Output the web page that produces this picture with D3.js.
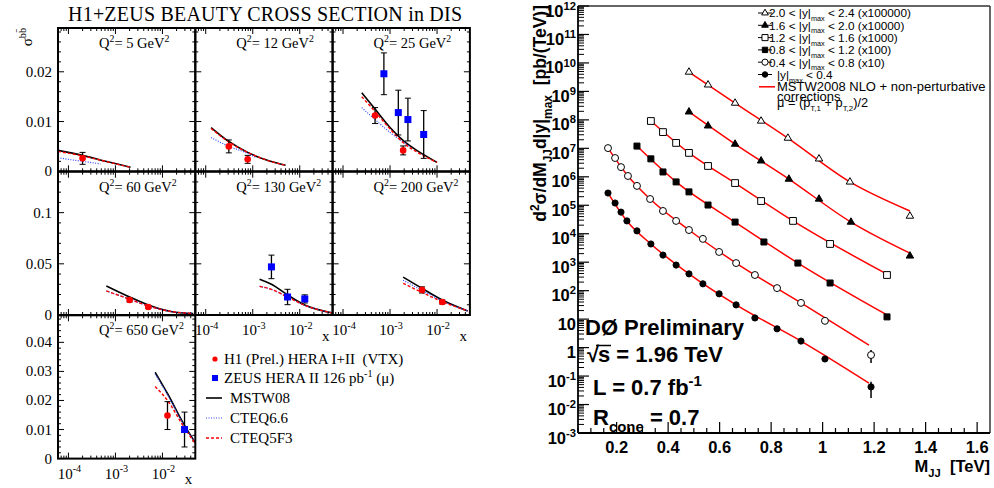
<!DOCTYPE html>
<html>
<head>
<meta charset="utf-8">
<script src="https://cdn.jsdelivr.net/npm/d3@7"></script>
<style>
  body { margin: 0; background: #fff; }
  text { white-space: pre; }
</style>
</head>
<body>
<svg id="chart" width="994" height="488"></svg>
<script>
// ---------------- left figure: H1+ZEUS beauty cross section ----------------
var q2Labels = ["5", "12", "25", "60", "130", "200", "650"];
var rowMax = [0.0288, 0.14, 0.0493];
var rowTicks = [[0, 0.01, 0.02], [0, 0.05, 0.1], [0, 0.01, 0.02, 0.03, 0.04]];
var rowMinor = [0.002, 0.01, 0.002];

// theory curves (x, sigma) per Q2 panel
var mstwX = [
  [6e-5, 2e-4, 6.8e-4, 2.1e-3],
  [1.3e-4, 3.1e-4, 7.8e-4, 1.9e-3, 5e-3],
  [2.5e-4, 4.8e-4, 1e-3, 2e-3, 4e-3, 1e-2],
  [6.4e-4, 2e-3, 5e-3, 0.015, 0.045],
  [1.4e-3, 2.5e-3, 5.5e-3, 0.0128, 0.05],
  [1.9e-3, 4.8e-3, 0.0129, 0.045],
  [7e-3, 0.0128, 0.0295, 0.05]
];
var mstwY = [
  [0.0042, 0.0032, 0.0019, 0.0008],
  [0.0088, 0.006, 0.0038, 0.0023, 0.0012],
  [0.0158, 0.0125, 0.0088, 0.006, 0.004, 0.0018],
  [0.0284, 0.0176, 0.0098, 0.0035, 0.0015],
  [0.035, 0.030, 0.0196, 0.0098, 0.002],
  [0.037, 0.026, 0.0147, 0.004],
  [0.0297, 0.0224, 0.0114, 0.0055]
];
var cteq66X = [
  [6e-5, 2e-4, 4.8e-4],
  [1.3e-4, 3.1e-4, 7.8e-4, 1.15e-3],
  [2.5e-4, 4.8e-4, 1e-3, 2.6e-3],
  [6.4e-4, 2e-3, 5e-3, 0.015, 0.045],
  [1.4e-3, 2.5e-3, 5.5e-3, 0.0128, 0.05],
  [1.9e-3, 4.8e-3, 0.0129, 0.045],
  [7e-3, 0.0128, 0.0295, 0.05]
];
var cteq66Y = [
  [0.0027, 0.0020, 0.0015],
  [0.0068, 0.005, 0.0036, 0.0028],
  [0.0128, 0.0104, 0.0078, 0.005],
  [0.0235, 0.0155, 0.0088, 0.0035, 0.0015],
  [0.028, 0.025, 0.0176, 0.0095, 0.002],
  [0.034, 0.024, 0.0137, 0.004],
  [0.029, 0.022, 0.0112, 0.0055]
];
var cteq5Y = [
  [0.0040, 0.0031, 0.0019, 0.0008],
  [0.0086, 0.0059, 0.0038, 0.0023, 0.0012],
  [0.015, 0.012, 0.0085, 0.0056, 0.0037, 0.0018],
  [0.0235, 0.0155, 0.0088, 0.0035, 0.0015],
  [0.028, 0.025, 0.0176, 0.0095, 0.002],
  [0.031, 0.022, 0.013, 0.004],
  [0.0248, 0.020, 0.0105, 0.0052]
];

// measurements
var h1Panel = [0, 1, 1, 2, 2, 3, 3, 5, 5, 6];
var h1X = [2e-4, 3.1e-4, 7.8e-4, 4.8e-4, 1.9e-3, 2e-3, 5e-3, 4.8e-3, 0.0129, 0.0128];
var h1Y = [0.0026, 0.005, 0.0024, 0.0112, 0.0042, 0.0147, 0.0078, 0.0245, 0.0127, 0.0148];
var h1Err = [0.0012, 0.0013, 0.0008, 0.0016, 0.0009, 0.002, 0.0015, 0.003, 0.002, 0.0048];

var zeusPanel = [2, 2, 2, 2, 4, 4, 4, 6];
var zeusX = [7.4e-4, 1.5e-3, 2.4e-3, 5.2e-3, 2.5e-3, 5.5e-3, 0.0128, 0.0295];
var zeusY = [0.0196, 0.0118, 0.0104, 0.0074, 0.047, 0.0176, 0.0157, 0.0100];
var zeusErr = [0.0042, 0.0045, 0.0043, 0.0048, 0.0115, 0.0075, 0.004, 0.006];

// ---------------- right figure: D0 dijet mass ----------------
var seriesNames = ["2.0", "1.6", "1.2", "0.8", "0.4", "0.0"];
var seriesHigh = ["2.4", "2.0", "1.6", "1.2", "0.8", "0.4"];
var seriesScale = ["(x100000)", "(x10000)", "(x1000)", "(x100)", "(x10)", ""];
var seriesMarker = ["opentriangle", "triangle", "opensquare", "square", "opencircle", "circle"];

var dataM = [
  [0.481, 0.555, 0.660, 0.761, 0.865, 0.986, 1.106, 1.339],
  [0.481, 0.555, 0.660, 0.761, 0.869, 0.986, 1.110, 1.339],
  [0.333, 0.380, 0.431, 0.481, 0.555, 0.660, 0.761, 0.885, 1.029, 1.250],
  [0.279, 0.333, 0.380, 0.431, 0.481, 0.555, 0.660, 0.772, 0.904, 1.029, 1.250],
  [0.1665, 0.194, 0.217, 0.244, 0.279, 0.330, 0.380, 0.431, 0.481, 0.535, 0.598, 0.664, 0.737, 0.823, 0.916, 1.009, 1.188],
  [0.1665, 0.194, 0.217, 0.240, 0.279, 0.333, 0.380, 0.431, 0.481, 0.535, 0.598, 0.664, 0.737, 0.823, 0.916, 1.009, 1.188]
];
var dataXsec = [
  [4.79e9, 1.70e9, 3.89e8, 9.12e7, 2.29e7, 4.27e6, 6.61e5, 4.17e4],
  [1.91e8, 6.17e7, 1.41e7, 3.63e6, 8.32e5, 1.66e5, 2.57e4, 1.66e3],
  [9.12e7, 3.72e7, 1.55e7, 6.92e6, 2.40e6, 6.03e5, 1.41e5, 2.82e4, 4.37e3, 355],
  [1.20e7, 4.27e6, 1.48e6, 6.61e5, 2.95e5, 1.02e5, 2.57e4, 5.13e3, 933, 186, 12.0],
  [1.02e7, 4.57e6, 2.19e6, 1.07e6, 4.79e5, 1.66e5, 6.31e4, 2.82e4, 1.35e4, 6.61e3, 2.29e3, 933, 355, 123, 37.2, 8.71, 0.55],
  [2.69e5, 1.20e5, 5.75e4, 2.82e4, 1.26e4, 4.37e3, 1.78e3, 794, 389, 174, 77.6, 31.6, 11.0, 4.57, 1.70, 0.398, 0.0417]
];
// error band on the last (highest mass) point, [low, high]
var lastErr = [null, null, null, null, [0.29, 0.83], [0.017, 0.063]];

var theoryM = [
  [0.481, 0.660, 0.865, 1.106, 1.339],
  [0.481, 0.660, 0.869, 1.110, 1.339],
  [0.333, 0.481, 0.660, 0.885, 1.250],
  [0.279, 0.431, 0.660, 0.904, 1.250],
  [0.1665, 0.244, 0.330, 0.481, 0.664, 0.916, 1.18],
  [0.1665, 0.240, 0.333, 0.481, 0.664, 0.916, 1.18]
];
var theoryXsec = [
  [4.79e9, 3.89e8, 2.29e7, 6.61e5, 6.31e4],
  [1.91e8, 1.41e7, 8.32e5, 2.57e4, 2.09e3],
  [9.12e7, 6.92e6, 6.03e5, 2.82e4, 380],
  [1.20e7, 6.61e5, 2.57e4, 933, 14.1],
  [1.02e7, 1.07e6, 1.66e5, 1.35e4, 933, 37.2, 1.23],
  [2.69e5, 2.82e4, 4.37e3, 389, 31.6, 1.70, 0.057]
];

var serif = "'Liberation Serif', 'DejaVu Serif', serif";
var sans = "'Liberation Sans', Arial, Helvetica, sans-serif";

var svg = d3.select("#chart");

// text with super/subscripts: parts = [[text, 1 sup | -1 sub | 0]]
function richText(sel, parts, size, small) {
  var cur = 0;
  small = small || 0.68;
  parts.forEach(function(p) {
    var off = p[1] === 1 ? -0.42 * size : (p[1] === -1 ? 0.32 * size : 0);
    sel.append("tspan")
      .attr("dy", off - cur)
      .attr("font-size", p[1] ? size * small : size)
      .text(p[0]);
    cur = off;
  });
  return sel;
}

// ================= LEFT =================
var colX = [58, 195.3, 332.6];
var rowY = [28, 171.7, 315.3];
var pw = 137.3, ph = 143.3;
var panelCol = [0, 1, 2, 0, 1, 2, 0];
var panelRow = [0, 0, 0, 1, 1, 1, 2];
var showXLabels = [false, false, false, false, true, true, true];

svg.append("text")
  .attr("x", 265).attr("y", 21)
  .attr("text-anchor", "middle")
  .attr("font-family", serif).attr("font-size", 20)
  .attr("textLength", 394)
  .text("H1+ZEUS BEAUTY CROSS SECTION in DIS");

richText(svg.append("text")
  .attr("transform", "translate(32,28) rotate(-90)")
  .attr("text-anchor", "end")
  .attr("font-family", serif), [["\u03c3", 0], ["bb\u0304", 1]], 15);

q2Labels.forEach(function(q, i) {
  var c = panelCol[i], r = panelRow[i];
  var x0 = colX[c], x1 = colX[c] + pw, yTop = rowY[r], yBot = rowY[r] + ph;
  var x = d3.scaleLog().domain([6e-5, 0.05]).range([x0, x1]);
  var y = d3.scaleLinear().domain([0, rowMax[r]]).range([yBot, yTop]);
  var g = svg.append("g");

  // log x ticks, top and bottom
  for (var e = -5; e <= -2; e++) {
    for (var k = 1; k < 10; k++) {
      var v = k * Math.pow(10, e);
      if (v <= 6.01e-5 || v >= 0.0499) continue;
      var len = k === 1 ? 6 : 3;
      var px = x(v);
      g.append("line").attr("x1", px).attr("x2", px).attr("y1", yBot).attr("y2", yBot - len)
        .attr("stroke", "#000").attr("stroke-width", 1);
      g.append("line").attr("x1", px).attr("x2", px).attr("y1", yTop).attr("y2", yTop + len)
        .attr("stroke", "#000").attr("stroke-width", 1);
    }
  }
  // y ticks, left and right
  d3.range(0, rowMax[r], rowMinor[r]).forEach(function(v) {
    var major = rowTicks[r].some(function(t) { return Math.abs(t - v) < 1e-9; });
    var len = major ? 6 : 3;
    var py = y(v);
    g.append("line").attr("x1", x0).attr("x2", x0 + len).attr("y1", py).attr("y2", py)
      .attr("stroke", "#000").attr("stroke-width", 1);
    g.append("line").attr("x1", x1).attr("x2", x1 - len).attr("y1", py).attr("y2", py)
      .attr("stroke", "#000").attr("stroke-width", 1);
  });

  // y tick labels on the first column
  if (c === 0) {
    rowTicks[r].forEach(function(t) {
      g.append("text")
        .attr("x", 52).attr("y", y(t) + 5)
        .attr("text-anchor", "end")
        .attr("font-family", serif).attr("font-size", 15)
        .text(t === 0 ? "0" : String(t));
    });
  }
  // x tick labels where no panel sits below
  if (showXLabels[i]) {
    [-4, -3, -2].forEach(function(ex) {
      richText(g.append("text")
        .attr("x", x(Math.pow(10, ex)) + 1).attr("y", yBot + 20)
        .attr("text-anchor", "middle")
        .attr("font-family", serif), [["10", 0], ["-" + Math.abs(ex), 1]], 15);
    });
    g.append("text")
      .attr("x", x1 - 3).attr("y", yBot + (r === 2 ? 25 : 26))
      .attr("text-anchor", "end")
      .attr("font-family", serif).attr("font-size", 15)
      .text("x");
  }

  // theory curves
  var line = d3.line()
    .x(function(d) { return x(d[0]); })
    .y(function(d) { return y(d[1]); })
    .curve(d3.curveMonotoneX);
  g.append("path")
    .attr("d", line(d3.zip(mstwX[i], mstwY[i])))
    .attr("fill", "none").attr("stroke", "#000").attr("stroke-width", 1.6);
  g.append("path")
    .attr("d", line(d3.zip(cteq66X[i], cteq66Y[i])))
    .attr("fill", "none").attr("stroke", "#3344ff").attr("stroke-width", 1.2)
    .attr("stroke-dasharray", "1,1.5");
  g.append("path")
    .attr("d", line(d3.zip(mstwX[i], cteq5Y[i])))
    .attr("fill", "none").attr("stroke", "#ff0000").attr("stroke-width", 1.4)
    .attr("stroke-dasharray", "3,2");

  // error bars + markers
  function errBar(px, yv, ev) {
    var ya = y(yv + ev), yb = y(Math.max(0, yv - ev));
    g.append("line").attr("x1", px).attr("x2", px).attr("y1", ya).attr("y2", yb)
      .attr("stroke", "#000").attr("stroke-width", 1.3);
    [ya, yb].forEach(function(yy) {
      g.append("line").attr("x1", px - 3).attr("x2", px + 3).attr("y1", yy).attr("y2", yy)
        .attr("stroke", "#000").attr("stroke-width", 1);
    });
  }
  h1Panel.forEach(function(p, j) {
    if (p !== i) return;
    errBar(x(h1X[j]), h1Y[j], h1Err[j]);
    g.append("circle").attr("cx", x(h1X[j])).attr("cy", y(h1Y[j])).attr("r", 3.3)
      .attr("fill", "#ff0000");
  });
  zeusPanel.forEach(function(p, j) {
    if (p !== i) return;
    errBar(x(zeusX[j]), zeusY[j], zeusErr[j]);
    g.append("rect").attr("x", x(zeusX[j]) - 3.5).attr("y", y(zeusY[j]) - 3.5)
      .attr("width", 7).attr("height", 7).attr("fill", "#0000ff");
  });

  // Q2 label
  richText(g.append("text")
    .attr("x", x0 + 41).attr("y", yTop + 20)
    .attr("font-family", serif),
    [["Q", 0], ["2", 1], ["= " + q + " GeV", 0], ["2", 1]], 14.5);

  // frame
  g.append("rect").attr("x", x0).attr("y", yTop).attr("width", pw).attr("height", ph)
    .attr("fill", "none").attr("stroke", "#000").attr("stroke-width", 2);
});

// left legend
var lg = svg.append("g").attr("font-family", serif).attr("font-size", 15);
lg.append("circle").attr("cx", 215).attr("cy", 359).attr("r", 2.6).attr("fill", "#ff0000");
lg.append("text").attr("x", 224).attr("y", 364).text("H1 (Prel.) HERA I+II  (VTX)");
lg.append("rect").attr("x", 212).attr("y", 375).attr("width", 6).attr("height", 6).attr("fill", "#0000ff");
richText(lg.append("text").attr("x", 224).attr("y", 383),
  [["ZEUS HERA II 126 pb", 0], ["-1", 1], [" (\u03bc)", 0]], 15);
lg.append("line").attr("x1", 206).attr("x2", 222).attr("y1", 398).attr("y2", 398)
  .attr("stroke", "#000").attr("stroke-width", 1.6);
lg.append("text").attr("x", 230).attr("y", 403).text("MSTW08");
lg.append("line").attr("x1", 206).attr("x2", 222).attr("y1", 418).attr("y2", 418)
  .attr("stroke", "#3344ff").attr("stroke-width", 1.2).attr("stroke-dasharray", "1,1.5");
lg.append("text").attr("x", 230).attr("y", 423).text("CTEQ6.6");
lg.append("line").attr("x1", 206).attr("x2", 222).attr("y1", 438).attr("y2", 438)
  .attr("stroke", "#ff0000").attr("stroke-width", 1.4).attr("stroke-dasharray", "3,2");
lg.append("text").attr("x", 230).attr("y", 443).text("CTEQ5F3");

// ================= RIGHT =================
var mx = d3.scaleLinear().domain([0.05, 1.65]).range([578, 990]);
var my = d3.scaleLog().domain([1e-3, 1e12]).range([433, 6]);
var rg = svg.append("g");

// frame (top/right thin)
rg.append("line").attr("x1", 578).attr("x2", 990).attr("y1", 6).attr("y2", 6)
  .attr("stroke", "#333").attr("stroke-width", 1.5);
rg.append("line").attr("x1", 990).attr("x2", 990).attr("y1", 6).attr("y2", 433)
  .attr("stroke", "#333").attr("stroke-width", 1.5);

// y axis ticks
for (var e = -3; e <= 12; e++) {
  var py = my(Math.pow(10, e));
  rg.append("line").attr("x1", 578).attr("x2", 589).attr("y1", py).attr("y2", py)
    .attr("stroke", "#000").attr("stroke-width", 1.2);
  if (e < 12) {
    for (var k = 2; k < 10; k++) {
      var pm = my(k * Math.pow(10, e));
      rg.append("line").attr("x1", 578).attr("x2", 584).attr("y1", pm).attr("y2", pm)
        .attr("stroke", "#000").attr("stroke-width", 1);
    }
  }
  var lab = rg.append("text")
    .attr("x", 576).attr("y", py + 10.5)
    .attr("text-anchor", "end")
    .attr("font-family", sans).attr("font-weight", "bold");
  if (e === 0) richText(lab, [["1", 0]], 16.5);
  else if (e === 1) richText(lab, [["10", 0]], 16.5);
  else richText(lab, [["10", 0], [String(e), 1]], 16.5);
}
// x axis ticks
d3.range(1, 33).forEach(function(i) {
  var v = i * 0.05;
  var px = mx(v);
  var major = i % 4 === 0;
  rg.append("line").attr("x1", px).attr("x2", px).attr("y1", 433).attr("y2", major ? 422 : 428)
    .attr("stroke", "#000").attr("stroke-width", 1.2);
  if (major) {
    rg.append("text")
      .attr("x", px).attr("y", 453)
      .attr("text-anchor", "middle")
      .attr("font-family", sans).attr("font-weight", "bold").attr("font-size", 16.5)
      .text(Math.abs(v - 1) < 1e-9 ? "1" : d3.format(".1f")(v));
  }
});
rg.append("line").attr("x1", 578).attr("x2", 578).attr("y1", 6).attr("y2", 433)
  .attr("stroke", "#000").attr("stroke-width", 1.8);
rg.append("line").attr("x1", 578).attr("x2", 990).attr("y1", 433).attr("y2", 433)
  .attr("stroke", "#000").attr("stroke-width", 1.8);

// axis titles
richText(rg.append("text")
  .attr("x", 990).attr("y", 472)
  .attr("text-anchor", "end")
  .attr("font-family", sans).attr("font-weight", "bold"),
  [["M", 0], ["JJ", -1], ["\u00a0\u00a0[TeV]", 0]], 16.5);
richText(rg.append("text")
  .attr("transform", "translate(546,5) rotate(-90)")
  .attr("text-anchor", "end")
  .attr("font-family", sans).attr("font-weight", "bold"),
  [["d", 0], ["2", 1], ["\u03c3/dM", 0], ["JJ", -1], ["d|y|", 0], ["max", -1], ["\u00a0\u00a0[pb/(TeV)]", 0]], 17.5);

// marker helper
function marker(g, type, cx, cy, scale) {
  var open = type.indexOf("open") === 0;
  var base = open ? type.slice(4) : type;
  var sym = base === "circle" ? d3.symbolCircle : (base === "square" ? d3.symbolSquare : d3.symbolTriangle);
  var area;
  if (base === "circle") area = open ? 38 : 30;
  else if (base === "square") area = open ? 46 : 36;
  else area = 24;
  if (scale) area *= scale;
  g.append("path")
    .attr("transform", "translate(" + cx + "," + cy + ")")
    .attr("d", d3.symbol().type(sym).size(area)())
    .attr("fill", open ? "#fff" : "#000")
    .attr("stroke", "#000").attr("stroke-width", 1);
}

// theory lines
var mline = d3.line()
  .x(function(d) { return mx(d[0]); })
  .y(function(d) { return my(d[1]); })
  .curve(d3.curveMonotoneX);
theoryM.forEach(function(ms, s) {
  rg.append("path")
    .attr("d", mline(d3.zip(ms, theoryXsec[s])))
    .attr("fill", "none").attr("stroke", "#ff0000").attr("stroke-width", 1.5);
});
// data
dataM.forEach(function(ms, s) {
  if (lastErr[s]) {
    var lm = ms[ms.length - 1];
    rg.append("line").attr("x1", mx(lm)).attr("x2", mx(lm))
      .attr("y1", my(lastErr[s][0])).attr("y2", my(lastErr[s][1]))
      .attr("stroke", "#000").attr("stroke-width", 1.5);
  }
  ms.forEach(function(m, j) {
    marker(rg, seriesMarker[s], mx(m), my(dataXsec[s][j]));
  });
});

// legend
var legY = [13, 25.3, 37.6, 49.9, 62.2, 74.5];
seriesNames.forEach(function(n, s) {
  var ly = legY[s];
  rg.append("line").attr("x1", 758).attr("x2", 772).attr("y1", ly).attr("y2", ly)
    .attr("stroke", "#000").attr("stroke-width", 1);
  marker(rg, seriesMarker[s], 765, ly, 0.8);
  var t = rg.append("text").attr("font-family", sans).attr("y", ly + 4.3);
  if (s < 5) {
    t.attr("x", 769);
    richText(t, [[n + " < |y|", 0], ["max", -1], [" < " + seriesHigh[s] + " " + seriesScale[s], 0]], 11.8, 0.62);
  } else {
    t.attr("x", 777);
    richText(t, [["|y|", 0], ["max", -1], [" < " + seriesHigh[s], 0]], 11.8, 0.62);
  }
});
rg.append("line").attr("x1", 759).attr("x2", 775).attr("y1", 86.8).attr("y2", 86.8)
  .attr("stroke", "#ff0000").attr("stroke-width", 1.5);
rg.append("text").attr("x", 777).attr("y", 91.3)
  .attr("font-family", sans).attr("font-size", 13)
  .text("MSTW2008 NLO + non-perturbative");
rg.append("text").attr("x", 777).attr("y", 100.5)
  .attr("font-family", sans).attr("font-size", 13)
  .text("corrections");
richText(rg.append("text").attr("x", 777).attr("y", 106.5).attr("font-family", sans),
  [["\u03bc = (p", 0], ["T,1", -1], [" + p", 0], ["T,2", -1], [")/2", 0]], 12.8, 0.62);

// D0 annotation
var ann = rg.append("g").attr("font-family", sans).attr("font-weight", "bold");
ann.append("text").attr("x", 585).attr("y", 335).attr("font-size", 22).text("D\u00d8 Preliminary");
ann.append("text").attr("x", 587).attr("y", 362).attr("font-size", 22).text("\u221a");
ann.append("text").attr("x", 598).attr("y", 362).attr("font-size", 22).text("s = 1.96 TeV");
ann.append("line").attr("x1", 596).attr("x2", 611).attr("y1", 345.5).attr("y2", 345.5)
  .attr("stroke", "#000").attr("stroke-width", 1.5);
richText(ann.append("text").attr("x", 593).attr("y", 395),
  [["L = 0.7 fb", 0], ["-1", 1]], 22);
richText(ann.append("text").attr("x", 593).attr("y", 425),
  [["R", 0], ["cone", -1], [" = 0.7", 0]], 22);
</script>
</body>
</html>
